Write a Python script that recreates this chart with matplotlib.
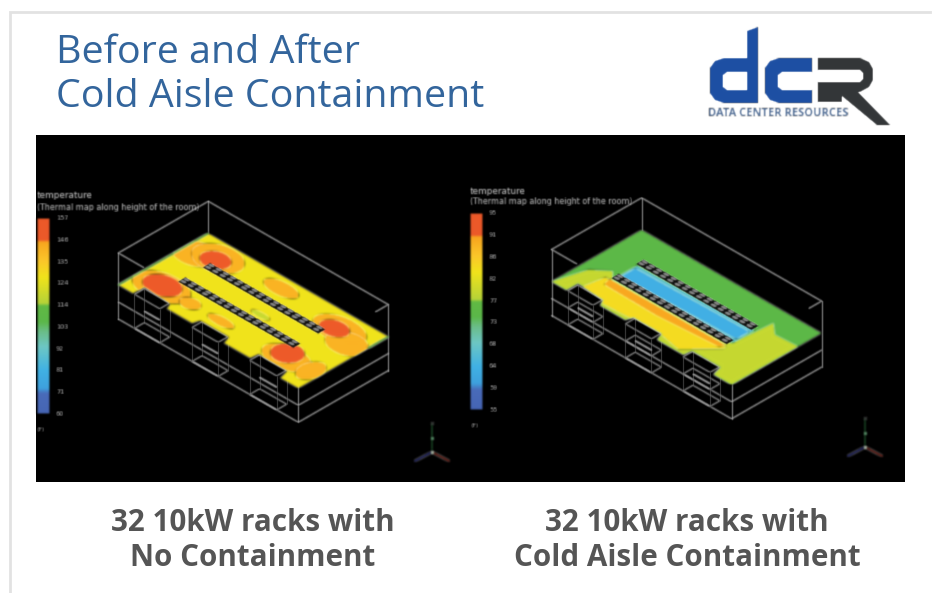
import numpy as np
import matplotlib
matplotlib.use("Agg")
import matplotlib.pyplot as plt
from matplotlib.colors import LinearSegmentedColormap, Normalize
from matplotlib.patches import Polygon, PathPatch
from matplotlib.path import Path

# ---------- data ----------
title_lines = ["Before and After", "Cold Aisle Containment"]
caption_left = ["32 10kW racks with", "No Containment"]
caption_right = ["32 10kW racks with", "Cold Aisle Containment"]
legend_title = "temperature"
legend_sub = "(Thermal map along height of the room)"
legend_unit = "(F)"
ticks_left = [157, 146, 135, 124, 114, 103, 92, 81, 71, 60]
ticks_right = [95, 91, 86, 82, 77, 73, 68, 64, 59, 55]
racks_per_row = 16

# floor outline in room coordinates (u along the rows, v across them)
floor_outline = [(0, 0), (1, 0), (1, 1), (.90, 1), (.885, .89), (.725, .89), (.72, .975),
                 (.575, .975), (.56, .89), (.40, .89), (.39, .96), (.25, .96), (.235, .89),
                 (.082, .87), (.082, 1), (0, 1)]
crac_spans = [(.09, .23), (.41, .555), (.73, .88)]

# left panel temperature regions: temperature, centre u, centre v, radius u, radius v
left_base = 128
left_orange = [(142, .06, .27, .11, .15), (142, .15, .19, .12, .17), (142, .47, .13, .09, .08),
               (142, .83, .20, .13, .15), (142, .92, .30, .10, .14), (142, .13, .78, .14, .17),
               (142, .29, .78, .05, .07), (142, .46, .78, .07, .05), (142, .82, .77, .12, .14),
               (142, .95, .76, .05, .14)]
left_hot = [(153, .15, .22, .07, .11), (153, .125, .76, .09, .13), (153, .81, .22, .07, .10),
            (153, .80, .72, .07, .13)]
left_cool = [(118, .54, .50, .05, .03)]

# right panel temperature regions
right_base = 75
right_lime = (79, [(0, 1), (.045, .68), (.12, .56), (.16, .64), (.80, .60), (.818, .17), (.878, .275),
                   (1, .26), (1, 1)])
right_yellow = (84, [(.11, .89), (.13, .66), (.80, .66), (.80, .70), (.68, .95), (.55, .90), (.25, .93)])
right_orange = (90, [(.15, .655), (.79, .65), (.78, .70), (.45, .745), (.16, .735)])
right_teal = (67, [(.16, .37), (.80, .34), (.80, .58), (.16, .60)])
right_blue = (63, [(.17, .41), (.79, .39), (.79, .53), (.17, .56)])

# ---------- colours ----------
anchors = [(0, "#4766b6"), (.10, "#4a6cbb"), (.13, "#3fa3e0"), (.22, "#41b3e6"), (.34, "#6ec9c6"),
           (.42, "#6cc08c"), (.47, "#5cb94a"), (.555, "#62bb45"), (.56, "#b6d43a"), (.70, "#f2e51c"),
           (.78, "#fdc92b"), (.885, "#f9a51f"), (.89, "#ee5a2a"), (1, "#ee5a2a")]
cmap = LinearSegmentedColormap.from_list("therm", anchors, N=512)
norm_left = Normalize(min(ticks_left), max(ticks_left))
norm_right = Normalize(min(ticks_right), max(ticks_right))

TITLE = "#33659c"
CAP = "#555555"
BLUE = "#1d4fa3"
DARK = "#333638"
WIRE = "#a8a8a8"


def blur_filter(sigma):
    r = int(3 * sigma) + 1
    k = np.exp(-0.5 * (np.arange(-r, r + 1) / sigma) ** 2)
    k /= k.sum()

    def f(img, dpi):
        pad = np.pad(img, ((r, r), (r, r), (0, 0)))
        out = np.apply_along_axis(lambda m: np.convolve(m, k, mode="same"), 0, pad)
        out = np.apply_along_axis(lambda m: np.convolve(m, k, mode="same"), 1, out)
        return out, -r, -r
    return f


BLUR = blur_filter(1.1)
SOFT = blur_filter(0.7)

fig = plt.figure(figsize=(9.37, 5.93), dpi=100, facecolor="white")
ax = fig.add_axes([0, 0, 1, 1])
ax.set_xlim(0, 937)
ax.set_ylim(593, 0)
ax.axis("off")

# page frame
ax.plot([10, 10, 930], [593, 12, 12], color="#e2e2e2", lw=2.0, zorder=0, solid_joinstyle="miter")
ax.add_patch(plt.Rectangle((36, 135), 869, 347, fc="black", ec="none", zorder=0.5))


def make_project(ox, oy):
    A = np.array([180.0, 103.3])
    B = np.array([-90.0, 51.7])
    O = np.array([ox, oy])

    def project(pts, z=0.0):
        pts = np.asarray(pts, float)
        return O + np.outer(pts[:, 0], A) + np.outer(pts[:, 1], B) + np.array([0, z])
    return project


def ell(cu, cv, ru, rv, n=48):
    t = np.linspace(0, 2 * np.pi, n, endpoint=False)
    return np.c_[cu + ru * np.cos(t), cv + rv * np.sin(t)]


def vert(project, p, z0, z1, lw=0.8):
    a = project([p], z0)[0]
    b = project([p], z1)[0]
    ln, = ax.plot([a[0], b[0]], [a[1], b[1]], color=WIRE, lw=lw, zorder=1)
    ln.set_agg_filter(SOFT)


def wire(project, pts, z=0.0, lw=0.8):
    xy = project(pts, z)
    ln, = ax.plot(xy[:, 0], xy[:, 1], color=WIRE, lw=lw, zorder=1)
    ln.set_agg_filter(SOFT)


def small(x, y, s, size, color):
    t = ax.text(x, y, s, color=color, fontsize=size, va="center", ha="left", family="DejaVu Sans", zorder=4)
    t.set_agg_filter(SOFT)


def draw_panel(ox, oy, base_value, norm, regions, bar_x, bar_top, bar_bot, ticks, tx, ty1, ty2, ux, uy,
               triad, dense):
    project = make_project(ox, oy)
    ZT, ZM, ZB = -32, 17, 34
    # room frame
    wire(project, [(0, 0), (1, 0)], ZT)
    wire(project, [(0, 0), (0, 1)], ZT)
    wire(project, [(0, 1), (.14, 1)], ZT)
    wire(project, [(1, 0), (1, .14)], ZT)
    vert(project, (0, 0), ZT, 0)
    for p in [(0, 1), (1, 0), (1, 1)]:
        vert(project, p, ZT, ZB)
    for z in (ZM, ZB):
        wire(project, [(0, 1), (1, 1), (1, 0)], z)
    # CRAC units below the floor openings
    for s, e in crac_spans:
        levels = (0, ZB * .5, ZB) if dense else (0, ZB)
        for z in levels:
            wire(project, [(s, .89), (e, .89), (e, 1), (s, 1), (s, .89)], z, lw=0.7)
        for p in [(s, .89), (e, .89), (e, 1), (s, 1)]:
            vert(project, p, 0, ZB, lw=0.7)
        wire(project, [(s + .03, .945), (e - .03, .945)], ZB * .5, lw=1.2)

    # floor
    outline = project(floor_outline)
    floor = Polygon(outline, closed=True, fc=cmap(norm(base_value)), ec="none", zorder=2)
    ax.add_patch(floor)
    floor.set_agg_filter(BLUR)
    for val, pts in regions:
        pg = Polygon(project(pts), closed=True, fc=cmap(norm(val)), ec="none", zorder=2.1)
        ax.add_patch(pg)
        pg.set_clip_path(Polygon(outline, closed=True, transform=ax.transData))
        pg.set_agg_filter(BLUR)

    # rack rows
    for v0, v1 in [(.30, .38), (.575, .655)]:
        row = Polygon(project([(.16, v0), (.80, v0), (.80, v1), (.16, v1)], -2), closed=True,
                      fc="#141414", ec="none", zorder=3)
        ax.add_patch(row)
        row.set_agg_filter(SOFT)
        du = (.80 - .16) / racks_per_row
        for i in range(racks_per_row):
            u = .16 + i * du
            for vv in (v0 + .010, v0 + .046):
                r = Polygon(project([(u + .006, vv), (u + du - .008, vv),
                                     (u + du - .008, vv + .026), (u + .006, vv + .026)], -3),
                            closed=True, fc="#8f8f8f", ec="none", zorder=3.1)
                ax.add_patch(r)
                r.set_agg_filter(SOFT)

    # colour bar
    vals = np.linspace(min(ticks), max(ticks), 200)
    ys = np.linspace(bar_bot, bar_top, 201)
    mesh = ax.pcolormesh([bar_x, bar_x + 13], ys, vals[:, None], cmap=cmap, norm=norm, zorder=2, rasterized=True)
    mesh.set_agg_filter(BLUR)
    for t, y in zip(ticks, np.linspace(bar_top, bar_bot, len(ticks))):
        small(bar_x + 19, y, str(t), 4.8, "#b4b4b4")
    small(tx, ty1, legend_title, 6.4, "#c8c8c8")
    small(tx, ty2, legend_sub, 5.8, "#b8b8b8")
    small(ux, uy, legend_unit, 4.6, "#a0a0a0")

    # axis triad
    cx, cy = triad
    for (dx, dy), col in [((0, -28), "#245f33"), ((-17, 9), "#3a3f9e"), ((17, 9), "#a5362a")]:
        ln, = ax.plot([cx, cx + dx], [cy, cy + dy], color=col, lw=1.5, alpha=.7, zorder=3)
        ln.set_agg_filter(BLUR)
    for dx, dy, col in [(0, 0, "#a8c8b0"), (0, -14, "#5f9a70"), (0, -29, "#3a3a3a")]:
        m, = ax.plot([cx + dx], [cy + dy], "o", ms=2.6, color=col, mec="none", zorder=3.2)
        m.set_agg_filter(BLUR)


# left
regions_left = []
for group in (left_orange, left_cool, left_hot):
    for val, cu, cv, ru, rv in group:
        regions_left.append((val, ell(cu, cv, ru, rv)))
draw_panel(208.3, 233.3, left_base, norm_left, regions_left, 37, 218, 414, ticks_left,
           37, 196, 207, 37, 429, (432, 452), False)
# thin green rim on the back edges of the left floor
pj = make_project(208.3, 233.3)
for seg in ([(0, 0), (0, 1)], [(1, 0), (1, .22)]):
    xy = pj(seg)
    ln, = ax.plot(xy[:, 0], xy[:, 1], color="#58b84c", lw=1.2, zorder=2.3)
    ln.set_agg_filter(BLUR)

# right
regions_right = [right_lime, right_yellow, right_orange, right_teal, right_blue]
draw_panel(641.6, 229.8, right_base, norm_right, regions_right, 470, 213, 410, ticks_right,
           470, 192, 202, 471, 426, (865, 447), True)

# texts
font = ["Open Sans", "DejaVu Sans"]
for s, y in zip(title_lines, [53, 97]):
    ax.text(56, y, s, color=TITLE, fontsize=28.4, va="center", ha="left", family=font)
for s, y in zip(caption_left, [523, 558]):
    ax.text(253, y, s, color=CAP, fontsize=21.3, va="center", ha="center", family=font, fontweight="bold")
for s, y in zip(caption_right, [523, 558]):
    ax.text(687, y, s, color=CAP, fontsize=21.3, va="center", ha="center", family=font, fontweight="bold")

# logo
M, L, Z = Path.MOVETO, Path.LINETO, Path.CLOSEPOLY


def shape(rings, col):
    v, c = [], []
    for ring in rings:
        v += ring + [ring[0]]
        c += [M] + [L] * (len(ring) - 1) + [Z]
    p = PathPatch(Path(v, c), fc=col, ec="none", zorder=5)
    ax.add_patch(p)
    p.set_agg_filter(blur_filter(0.6))


shape([[(747, 31), (758, 27), (758, 103), (724, 103), (715, 100), (710, 93), (710, 68), (715, 61), (724, 58), (747, 58)],
       [(747, 72), (727, 72), (723, 75), (723, 87), (727, 90), (747, 90)]], BLUE)
shape([[(812, 58), (812, 72), (782, 72), (778, 75), (778, 87), (782, 90), (812, 90), (812, 103),
        (779, 103), (770, 100), (765, 93), (765, 68), (770, 61), (779, 58)]], BLUE)
shape([[(818, 58), (860, 58), (869, 62), (873, 69), (873, 80), (869, 87), (860, 92), (858, 92),
        (890, 125), (877, 125), (842, 96), (842, 102), (818, 102), (818, 82), (860, 82), (863, 79),
        (863, 73), (860, 70), (818, 70)]], DARK)
t = ax.text(708, 114, "DATA CENTER RESOURCES", color="#4d6a93", fontsize=8, va="center", ha="left",
            family=font, fontweight="bold", zorder=6)
t.set_agg_filter(SOFT)

fig.savefig("out.png", dpi=100, facecolor=fig.get_facecolor())
